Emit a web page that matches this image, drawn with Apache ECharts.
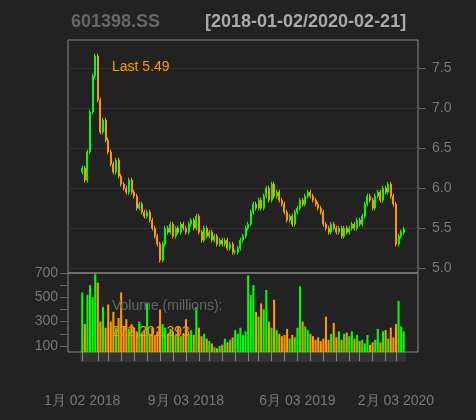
<!DOCTYPE html>
<html><head><meta charset="utf-8">
<script src="https://cdn.jsdelivr.net/npm/echarts@6/dist/echarts.min.js"></script>
<style>body{margin:0;background:#222}#c{width:476px;height:420px}</style>
</head><body><div id="c"></div>
<script>
// closes, roughly every 4 trading days, Jan 2018 - Feb 2020
var closes = [6.25,6.10,6.45,6.95,7.40,7.65, 7.10,6.70,6.85,6.60, 6.45,6.30,6.20,6.35,6.15,
	6.05,6.00,5.95,6.10,5.95, 5.90,5.75,5.80,5.70,5.65, 5.70,5.60,5.50,5.40,5.30,
	5.10,5.30,5.50,5.45,5.55, 5.40,5.50,5.45,5.55,5.50, 5.45,5.55,5.60,5.50,5.65,
	5.45,5.35,5.50,5.40, 5.45,5.35,5.40,5.30,5.35, 5.30,5.35,5.25,5.30,5.20,
	5.20,5.25,5.35,5.40,5.50, 5.55,5.70,5.80,5.75, 5.85,5.75,5.90,6.00,5.85,
	6.05,5.90,5.95,5.85,5.80, 5.70,5.60,5.65,5.55,5.70, 5.75,5.85,5.80,5.90,5.95,
	5.90,5.85,5.80,5.75,5.70, 5.55,5.50,5.45,5.55,5.50, 5.45,5.50,5.40,5.50,5.45,
	5.50,5.55,5.50,5.60, 5.55,5.65,5.80,5.90,5.85, 5.75,5.90,5.95,5.85,6.00,
	5.95,6.05,5.90,5.80, 5.30,5.40,5.45,5.49];
var volumes = [540,280,520,600,500,690, 620,300,420,250, 440,300,380,250,330,
	540,260,320,240,280, 250,220,300,200,230, 450,200,250,190,220,
	400,280,250,200,240, 220,190,260,180,200, 320,200,230,190,420,
	250,180,200,160, 140,120,90,80,100, 110,160,130,150,170,
	230,200,250,190,220, 680,520,600,380,340, 450,400,560,300,250,
	480,230,200,180,190, 240,160,190,170,250, 590,300,260,230,200,
	180,150,170,140,160, 340,150,200,290,170, 220,150,200,210,180,
	220,160,190,140, 150,120,190,110,130, 150,240,130,220,230,
	160,250,170,280, 470,260,220,190,272];
var monthStarts = [0,6,10,15,20,25,30,35,40,45,49,54,59,64,68,73,78,83,88,93,98,103,107,112,117,121];
var tickIdx = [0,40,83,121];
var tickText = ['1月 02 2018','9月 03 2018','6月 03 2019','2月 03 2020'];
var priceLabels = [5.0,5.5,6.0,6.5,7.0,7.5];

var PAD = 5, UP = '#00ff00', DN = '#ff9900';
var cats = [], candles = [], vols = [];
var total = closes.length + PAD * 2;
for (var i = 0; i < total; i++) cats.push(String(i));
for (var k = 0; k < PAD; k++) { candles.push('-'); vols.push('-'); }
closes.forEach(function(c, j) {
	var o = j == 0 ? c - 0.05 : closes[j - 1];
	candles.push([o, c, Math.min(o, c) - 0.03, Math.max(o, c) + 0.03]);
	vols.push({value: volumes[j], itemStyle: {color: c >= o ? UP : DN}});
});
var tickSet = {}, labelMap = {};
monthStarts.forEach(function(m) { tickSet[m + PAD] = 1; });
tickIdx.forEach(function(m, n) { labelMap[m + PAD] = tickText[n]; });

var chart = echarts.init(document.getElementById('c'));
chart.setOption({
	backgroundColor: '#222222',
	animation: false,
	textStyle: {fontFamily: 'Liberation Sans'},
	title: [
		{text: '601398.SS', left: 66, top: 8, textStyle: {color: '#666', fontSize: 18, fontWeight: 'bold'}},
		{text: '[2018-01-02/2020-02-21]', left: 200, top: 8, textStyle: {color: '#aaa', fontSize: 18, fontWeight: 'bold'}},
		{text: 'Last 5.49', left: 107, top: 55, textStyle: {color: DN, fontSize: 14, fontWeight: 'normal'}},
		{text: 'Volume (millions):', left: 107, top: 294, textStyle: {color: '#666', fontSize: 14, fontWeight: 'normal'}},
		{text: '272,201,293', left: 107, top: 320, textStyle: {color: DN, fontSize: 14, fontWeight: 'normal'}}
	],
	grid: [
		{left: 68, right: 58, top: 40, height: 233, show: true, borderColor: '#888', backgroundColor: 'transparent'},
		{left: 68, right: 58, top: 273, height: 79, show: true, borderColor: '#888', backgroundColor: 'transparent'}
	],
	xAxis: [
		{gridIndex: 0, type: 'category', data: cats, axisLine: {show: false}, axisTick: {show: false}, axisLabel: {show: false}},
		{gridIndex: 1, type: 'category', data: cats, axisLine: {show: false},
			axisTick: {show: true, alignWithLabel: true, length: 9, interval: function(i) { return !!tickSet[i]; }, lineStyle: {color: '#888'}},
			axisLabel: {show: true, margin: 42, color: '#777', fontSize: 14, interval: function(i) { return !!labelMap[i]; },
				formatter: function(v, i) { return labelMap[i] || ''; }}}
	],
	yAxis: [
		{gridIndex: 0, type: 'value', position: 'right', min: 4.94, max: 7.85,
			axisLine: {show: false},
			axisTick: {show: true, length: 8, customValues: priceLabels, lineStyle: {color: '#666'}},
			axisLabel: {color: '#777', fontSize: 14, margin: 14, customValues: priceLabels, formatter: function(v) { return v.toFixed(1); }},
			splitLine: {show: true, lineStyle: {color: '#333'}}},
		{gridIndex: 1, type: 'value', position: 'left', min: 50, max: 700,
			axisLine: {show: false},
			axisTick: {show: true, length: 8, customValues: [100,200,300,400,500,600,700], lineStyle: {color: '#666'}},
			axisLabel: {color: '#777', fontSize: 14, margin: 10, customValues: [100,300,500,700]},
			splitLine: {show: false}}
	],
	series: [
		{type: 'candlestick', xAxisIndex: 0, yAxisIndex: 0, data: candles, barWidth: 1.5,
			itemStyle: {color: UP, color0: DN, borderColor: UP, borderColor0: DN, borderWidth: 1}},
		{type: 'bar', xAxisIndex: 1, yAxisIndex: 1, data: vols, barCategoryGap: '20%'}
	],
	graphic: [{type: 'rect', shape: {x: 80, y: 352, width: 326, height: 10}, style: {fill: '#333'}, z: -1}]
});
</script></body></html>
